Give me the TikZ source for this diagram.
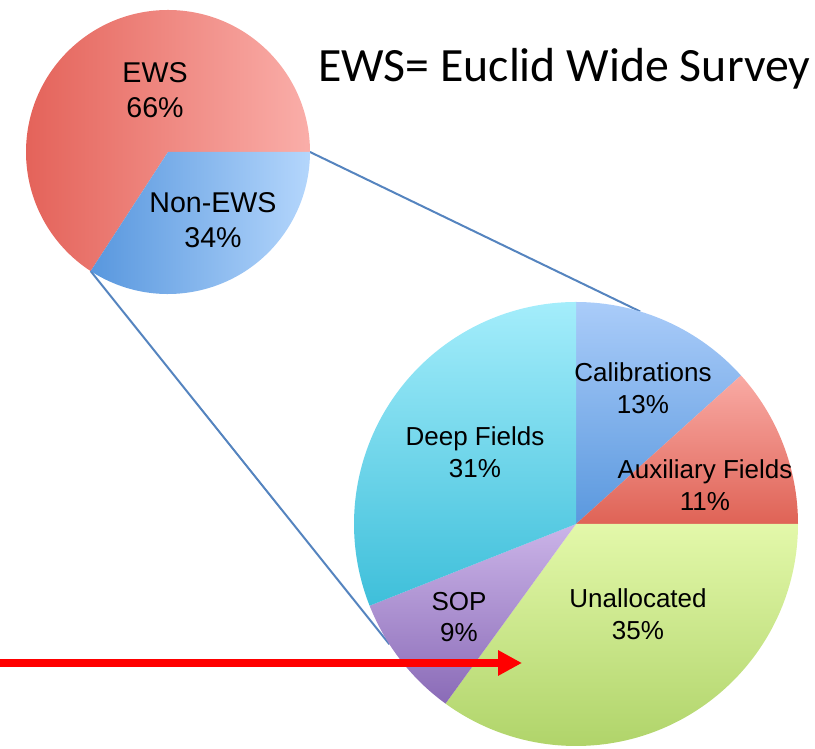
\documentclass[tikz,border=0pt]{standalone}
\usepackage{fontspec}
\setmainfont{Liberation Sans}
\newfontfamily\titlefont{Carlito}
\usetikzlibrary{arrows.meta}
\definecolor{ewsL}{HTML}{E4635A}
\definecolor{ewsR}{HTML}{FAAEA9}
\definecolor{nonL}{HTML}{5897DE}
\definecolor{nonR}{HTML}{B4D6FC}
\definecolor{calT}{HTML}{AACCF9}
\definecolor{calB}{HTML}{5A98DE}
\definecolor{auxT}{HTML}{F9AAA4}
\definecolor{auxB}{HTML}{DF6356}
\definecolor{unaT}{HTML}{E3F8AA}
\definecolor{unaB}{HTML}{B0D46A}
\definecolor{sopT}{HTML}{CBB4E8}
\definecolor{sopB}{HTML}{8A6BB7}
\definecolor{depT}{HTML}{A4EDFB}
\definecolor{depB}{HTML}{3EBFDA}
\definecolor{connblue}{HTML}{5584BF}
\begin{document}
\begin{tikzpicture}[x=1pt,y=1pt,
  lbl/.style={align=center, font=\fontsize{26}{31.5}\selectfont, inner sep=0pt},
  slbl/.style={align=center, font=\fontsize{28.6}{35}\selectfont, inner sep=0pt},
  conn/.style={draw=connblue, line width=2pt},
  redarrow/.style={draw=red, line width=7.5pt, -{Triangle[length=24pt,width=24pt]}}]
\useasboundingbox (0,0) rectangle (815,749);
\coordinate (sc) at (168,597);
\coordinate (bc) at (576,225);
% connector end points
\coordinate (s1) at ([shift={(0:142pt)}]sc);
\coordinate (s2) at ([shift={(-123:142pt)}]sc);
\coordinate (b1) at ([shift={(73.2:222pt)}]bc);
\coordinate (b2) at ([shift={(212.8:222pt)}]bc);
\draw[conn] (s1) -- (b1);
\draw[conn] (s2) -- (b2);
% small pie
\shade[left color=ewsL, right color=ewsR] (sc) -- (s1) arc[start angle=0, end angle=237, radius=142pt] -- cycle;
\shade[left color=nonL, right color=nonR] (sc) -- (s2) arc[start angle=-123, end angle=0, radius=142pt] -- cycle;
% big pie
\shade[top color=calT, bottom color=calB] (bc) -- ([shift={(90:222pt)}]bc) arc[start angle=90, end angle=42, radius=222pt] -- cycle;
\shade[top color=auxT, bottom color=auxB] (bc) -- ([shift={(42:222pt)}]bc) arc[start angle=42, end angle=0, radius=222pt] -- cycle;
\shade[top color=unaT, bottom color=unaB] (bc) -- ([shift={(0:222pt)}]bc) arc[start angle=0, end angle=-126, radius=222pt] -- cycle;
\shade[top color=sopT, bottom color=sopB] (bc) -- ([shift={(-126:222pt)}]bc) arc[start angle=-126, end angle=-158.4, radius=222pt] -- cycle;
\shade[top color=depT, bottom color=depB] (bc) -- ([shift={(-158.4:222pt)}]bc) arc[start angle=-158.4, end angle=-270, radius=222pt] -- cycle;
% labels
\node[slbl] (ews) at (155,659) {EWS\\66\%};
\node[slbl] (nonews) at (213,529) {Non-EWS\\34\%};
\node[lbl] (cal) at (643,361) {Calibrations\\13\%};
\node[lbl] (aux) at (705,264) {Auxiliary Fields\\11\%};
\node[lbl] (deep) at (475,297) {Deep Fields\\31\%};
\node[lbl] (sop) at (459,132) {SOP\\9\%};
\node[lbl] (una) at (638,135) {Unallocated\\35\%};
\node[anchor=base west, inner sep=0pt, font=\titlefont\fontsize{47.8}{57}\selectfont] (title) at (318,667) {EWS= Euclid Wide Survey};
% red arrow
\coordinate (astart) at (0,86);
\coordinate (aend) at (522,86);
\draw[redarrow] (astart) -- (aend);
\end{tikzpicture}
\end{document}
